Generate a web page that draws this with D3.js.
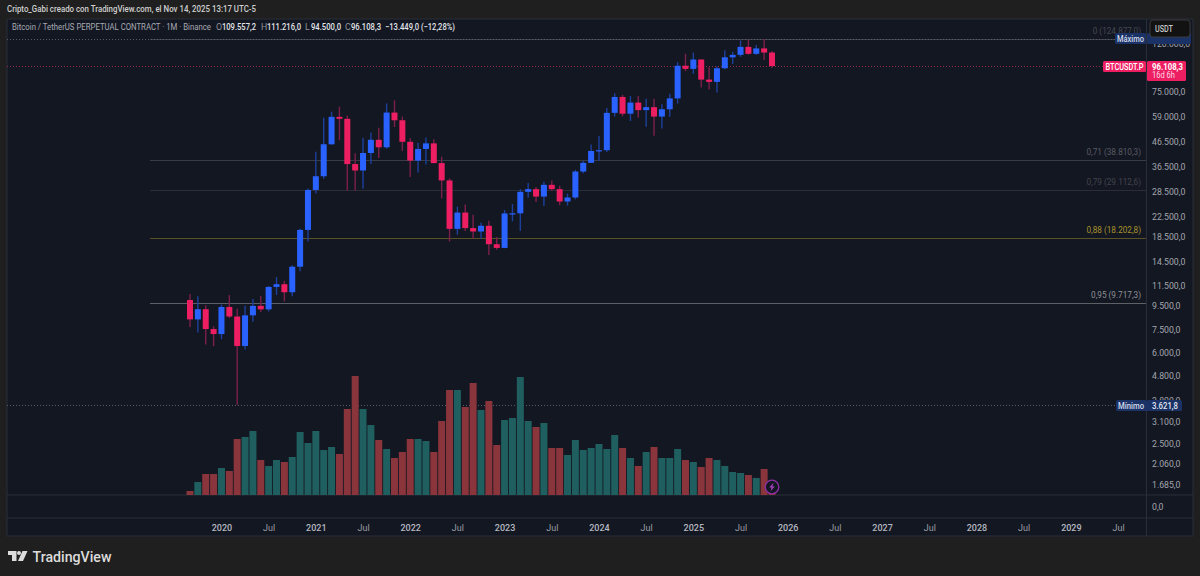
<!DOCTYPE html>
<html><head><meta charset="utf-8">
<script src="https://cdn.jsdelivr.net/npm/d3@7"></script>
<style>html,body{margin:0;padding:0;background:#1f1f1f;overflow:hidden}svg{display:block}text{font-family:Roboto,"Liberation Sans",sans-serif}</style>
</head><body><svg id="c" width="1200" height="576"></svg>
<script>
const opens=[10000,8290,9150,7550,7195,9350,8525,6410,8620,9450,9135,11350,11650,10780,13800,19700,29000,33100,45100,58800,57700,37250,35000,41450,47100,43800,61300,56900,46200,38500,43100,45500,37600,31800,19900,23300,20050,19400,20500,17150,16550,23100,23130,28470,29230,27200,30470,29230,25930,26960,34650,37700,42280,42580,61130,71280,60620,67500,62770,64600,58970,63300,70290,96400,93500,102400,84300,82500,94100,104600,107100,115700,108200,114000,109557.2];
const highs=[10600,10370,9500,7750,9570,10500,9200,9470,10100,10400,11450,12480,12050,14000,19900,29400,42000,58350,61800,64900,59600,41400,48100,50500,52900,67000,69000,59000,47900,45800,48200,47400,40000,32400,24700,25200,22800,21100,21500,18400,23900,25300,29200,31000,29800,31400,31800,30200,28000,35200,38400,45000,48900,64000,73800,72800,72000,71900,70000,70000,66500,73600,99800,108300,109500,102500,95000,95800,112000,110400,123200,124000,117900,124877,111216];
const lows=[7700,7300,6500,6400,6850,8400,3621.8,6200,8100,8900,8950,10500,9850,10380,13200,17600,28000,32300,44900,46900,28800,28800,29300,37300,39500,43200,53300,42300,32900,34300,37100,37500,26700,17600,18800,19500,18100,18100,15450,16250,16500,21400,19500,26900,25800,24800,28800,25000,24900,26500,34100,37600,38500,41900,59000,59100,56500,58400,53500,49000,52500,58900,66800,91500,89100,78200,76600,74500,93300,98000,105100,107300,107300,102000,94500];
const closes=[8290,9150,7550,7195,9350,8525,6410,8620,9450,9135,11350,11650,10780,13800,19700,29000,33100,45100,58800,57700,37250,35000,41450,47100,43800,61300,56900,46200,38500,43100,45500,37600,31800,19900,23300,20050,19400,20500,17150,16550,23100,23130,28470,29230,27200,30470,29230,25930,26960,34650,37700,42280,42580,61130,71280,60620,67500,62770,64600,58970,63300,70290,96400,93500,102400,84300,82500,94100,104600,107100,115700,108200,114000,109557,96108.3];
const volumes=[4,13,21,21,27,24,56,58,64,35,29,35,33,38,63,52,64,45,48,41,86,119,86,70,55,46,37,43,56,56,54,43,74,105,105,88,112,85,94,50,75,77,118,74,68,72,47,47,40,55,45,47,51,46,60,47,37,29,43,48,37,37,46,35,33,28,37,35,29,23,22,20,17,26,5];
const priceTicks=[120000,75000,59000,46500,36500,28500,22500,18500,14500,11500,9500,7500,6000,4800,3800,3100,2500,2060,1685];
const timeTicks=[4,10,16,22,28,34,40,46,52,58,64,70,76,82,88,94,100,106,112,118];
const timeLabels=["2020","Jul","2021","Jul","2022","Jul","2023","Jul","2024","Jul","2025","Jul","2026","Jul","2027","Jul","2028","Jul","2029","Jul"];
const fibLevels=[124877,38810.3,29112.6,18202.8,9717.3];
const fibLabels=["0 (124.877,0)","0,71 (38.810,3)","0,79 (29.112,6)","0,88 (18.202,8)","0,95 (9.717,3)"];
const fibLine=["#3d4049","#3a3c45","#2b2e37","#5a5226","#5e6068"];
const fibText=["#44474f","#595b63","#42444c","#a8922c","#8f9196"];

const UP="#2962ff",DN="#ed1e62",UPW="#1d409d",DNW="#7d1f4b",VUP="#1f5f5f",VDN="#8a343c";
const BG="#131722",FR="#2a2e39";
const fmt=(v,d=1)=>{const s=v.toFixed(d).split(".");return s[0].replace(/\B(?=(\d{3})+$)/g,".")+","+(s[1]||"0");};

const svg=d3.select("#c");
const x=d3.scaleLinear().domain([0,74]).range([190,772]);
const y=d3.scaleLog().domain([3621.8,124877]).range([405,39]);
const v=d3.scaleLinear().domain([0,119]).range([495,376]);
const L=7,R=1146,OUT=1193,T=19,PANE=495,TB=518,B=536;

svg.append("rect").attr("x",L).attr("y",T).attr("width",OUT-L).attr("height",B-T).attr("fill",BG).attr("stroke",FR);
const lineH=(yy,x1,x2,c,extra={})=>{const l=svg.append("line").attr("x1",x1).attr("x2",x2).attr("y1",yy).attr("y2",yy).attr("stroke",c);for(const k in extra)l.attr(k,extra[k]);return l;};
lineH(PANE,L,OUT,FR);lineH(TB,L,OUT,FR);
svg.append("line").attr("x1",R+.5).attr("x2",R+.5).attr("y1",T).attr("y2",B).attr("stroke",FR);

// fib levels
fibLevels.forEach((p,i)=>{const yy=Math.round(y(p))+.5;lineH(yy,150,R,fibLine[i]);});
svg.append("g").selectAll("text").data(fibLevels).join("text")
 .attr("x",1141).attr("y",d=>y(d)-5).attr("text-anchor","end").attr("font-size",8.2)
 .attr("fill",(d,i)=>fibText[i]).text((d,i)=>fibLabels[i]);

// dotted levels
lineH(Math.round(y(124877))+.5,L,1115,"#5a5d66",{"stroke-dasharray":"1 2"});
lineH(Math.round(y(3621.8))+.5,L,1116,"#5a5d66",{"stroke-dasharray":"1 2"});
lineH(Math.round(y(96108.3))+.5,L,1104,"#8f2a44",{"stroke-dasharray":"1 2"});

// volumes
const idx=d3.range(closes.length);
svg.append("g").selectAll("rect").data(idx).join("rect")
 .attr("x",i=>x(i)-3.5).attr("width",7).attr("y",i=>v(volumes[i])).attr("height",i=>v(0)-v(volumes[i]))
 .attr("fill",i=>closes[i]>=opens[i]?VUP:VDN);

// wicks and bodies
svg.append("g").selectAll("line").data(idx).join("line")
 .attr("x1",i=>x(i)).attr("x2",i=>x(i)).attr("y1",i=>y(highs[i])).attr("y2",i=>y(lows[i]))
 .attr("stroke",i=>closes[i]>=opens[i]?UPW:DNW).attr("stroke-width",1.4);
svg.append("g").selectAll("rect").data(idx).join("rect")
 .attr("x",i=>x(i)-3).attr("width",6)
 .attr("y",i=>y(Math.max(opens[i],closes[i])))
 .attr("height",i=>Math.max(1.2,Math.abs(y(opens[i])-y(closes[i]))))
 .attr("fill",i=>closes[i]>=opens[i]?UP:DN);

// axes
const ay=svg.append("g").attr("transform",`translate(${R},0)`).call(d3.axisRight(y).tickValues(priceTicks).tickFormat(d=>fmt(d)).tickSize(0).tickPadding(6));
ay.select(".domain").remove();
ay.selectAll("text").attr("font-size",8.7).attr("fill","#a3a6ae").style("font-family","Roboto").attr("dy","0.34em");
svg.append("text").attr("x",R+6).attr("y",509.5).attr("font-size",8.7).attr("fill","#a3a6ae").text(fmt(0));
const ax=svg.append("g").attr("transform",`translate(0,${TB})`).call(d3.axisBottom(x).tickValues(timeTicks).tickFormat((d,i)=>timeLabels[i]).tickSize(0).tickPadding(6.5));
ax.select(".domain").remove();
ax.selectAll("text").attr("font-size",9).attr("fill",(d,i)=>i%2==0?"#b5b8c0":"#9a9da5").attr("font-weight",(d,i)=>i%2==0?500:400).style("font-family","Roboto");

// tags
const tag=(x0,y0,w,h,c)=>svg.append("rect").attr("x",x0).attr("y",y0).attr("width",w).attr("height",h).attr("rx",1.5).attr("fill",c);
const txt=(x0,yy,s,size,c,w=400,len=0)=>{const t=svg.append("text").attr("x",x0).attr("y",yy).attr("font-size",size).attr("fill",c).attr("font-weight",w).text(s);if(len)t.attr("textLength",len).attr("lengthAdjust","spacingAndGlyphs");return t;};
const TAGB="#1a3266";
tag(1115,33,31,11,TAGB);txt(1117,41.5,"Máximo",8.3,"#d4dcec",500,27);
tag(1147,33,44,11,TAGB);
tag(1150,20,40,17,"#121212").attr("stroke","#3a3a3a").attr("rx",3);txt(1155,31.5,"USDT",8.6,"#c8c8c8",500,18);
tag(1116,400,31,11,TAGB);txt(1118,408.5,"Mínimo",8.3,"#d4dcec",500,26);
tag(1147,400,35,11,TAGB);txt(1152,408.8,fmt(3621.8),8.7,"#e3e8f2",500,26);
tag(1103,61,43,11,DN);txt(1105.5,69.8,"BTCUSDT.P",8.5,"#fff",500,38);
tag(1147,61,39,20,DN);txt(1152,69.6,fmt(96108.3),8.8,"#fff",700,31);txt(1152,78.4,"16d 6h",8.6,"#fbdbe6",400,23);

// header
txt(7,12,"Cripto_Gabi creado con TradingView.com, el Nov 14, 2025 13:17 UTC-5",8.8,"#d0d0d0",500,249);
txt(12,30,"Bitcoin / TetherUS PERPETUAL CONTRACT · 1M · Binance",8.8,"#a7aab2",400,199);
const leg=[["O",216,"109.557,2",34],["H",261,"111.216,0",34],["L",305,"94.500,0",30],["C",345,"96.108,3",30]];
leg.forEach(l=>{txt(l[1],30,l[0],8.8,"#8f929a");txt(l[1]+6,30,l[2],8.8,"#e4e6ea",500,l[3]);});
txt(385,30,"−13.449,0 (−12,28%)",8.8,"#e4e6ea",500,70);

// lightning icon
const pX=x(74),pY=487;
svg.append("circle").attr("cx",pX).attr("cy",pY).attr("r",6.8).attr("fill",BG).attr("stroke","#8e2fa3").attr("stroke-width",1.3);
svg.append("path").attr("transform",`translate(${pX},${pY})`).attr("d","M1.5,-4.2L-2.8,0.6H-0.4L-1.5,4.2L2.8,-0.6H0.4Z").attr("fill","#a93fc0");

// logo
const g=svg.append("g").attr("fill","#dcdcdc").attr("transform","translate(8,551)");
g.append("path").attr("d","M0,0H8.5V10H4V4H0Z");
g.append("circle").attr("cx",11).attr("cy",2).attr("r",2);
g.append("path").attr("d","M14.5,0H19.5L15,10H10Z");
txt(32.5,561.5,"TradingView",14.5,"#dcdcdc",500,79);
</script></body></html>
